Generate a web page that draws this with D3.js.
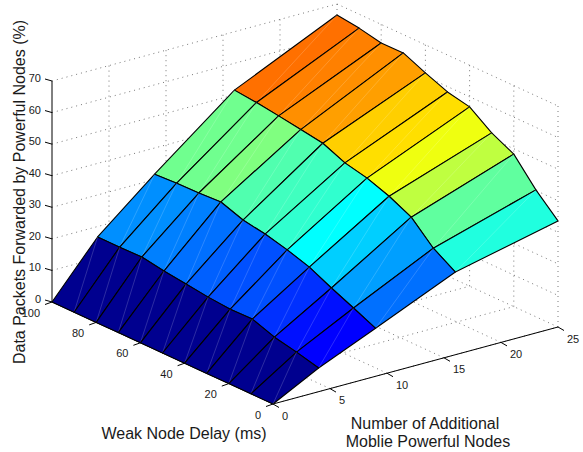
<!DOCTYPE html>
<html><head><meta charset="utf-8">
<script src="https://cdn.jsdelivr.net/npm/d3@7"></script>
<style>html,body{margin:0;background:#fff}svg{display:block}text{font-family:"Liberation Sans",Arial,sans-serif;fill:#1a1a1a}</style>
</head><body><svg id="c" width="583" height="452"></svg>
<script>
const nodeMesh=[0,4,9,16,25];
const delayMesh=[0,10,20,30,40,50,60,70,80,90,100];
const zAtNodes0=[0,0,0,0,0,0,0,0,0,0,0];
const zAtNodes4=[7.5,9.3,10.8,13.3,13.2,13.8,14.7,15.6,16.8,16.7,16.7];
const zAtNodes9=[15.2,18.4,21.5,24.9,27.1,28.9,30.1,32.6,32.2,32.1,31.7];
const zAtNodes16=[26.2,30.5,37.1,40.5,43.0,44.6,47.6,48.7,49.8,50.8,51.5];
const zAtNodes25=[33.6,40.2,48.3,51.8,56.8,58.3,61.1,64.2,64.1,65.6,66.5];
const nodeTicks=[0,5,10,15,20,25];
const delayTicks=[0,20,40,60,80,100];
const zTicks=[0,10,20,30,40,50,60,70];
const zTitle="Data Packets Forwarded by Powerful Nodes (%)";
const delayTitle="Weak Node Delay (ms)";
const nodeTitle=["Number of Additional","Moblie Powerful Nodes"];

const Z=[zAtNodes0,zAtNodes4,zAtNodes9,zAtNodes16,zAtNodes25];
const svg=d3.select("#c");

// Projection of the 3-D box, built from linear scales
const nX=d3.scaleLinear().domain([0,25]).range([0,285]);
const nY=d3.scaleLinear().domain([0,25]).range([0,-77]);
const dX=d3.scaleLinear().domain([0,100]).range([0,-221]);
const dY=d3.scaleLinear().domain([0,100]).range([0,-102]);
const zY=d3.scaleLinear().domain([0,70]).range([0,-221]);
const P=(n,d,z)=>[273+nX(n)+dX(d),404+nY(n)+dY(d)+zY(z)];
const line=d3.line();

// MATLAB jet(64) colormap
const zMax=d3.max(Z.flat());
const cScale=d3.scaleLinear().domain([0,zMax]).range([0,1]);
const clamp=v=>Math.max(0,Math.min(1,v));
function jet(z){
  const i=Math.min(63,Math.floor(cScale(z)*64));
  const x=(i+1)/64;
  return d3.rgb(255*clamp(1.5-Math.abs(4*x-3)),255*clamp(1.5-Math.abs(4*x-2)),255*clamp(1.5-Math.abs(4*x-1))).formatRgb();
}

// Dotted grid on the floor and the two back walls
const grid=svg.append("g").attr("fill","none").attr("stroke","#555").attr("stroke-width",0.8).attr("stroke-dasharray","1 4");
const seg=(g,a,b)=>g.append("path").attr("d",line([a,b]));
nodeTicks.slice(1).forEach(n=>{
  seg(grid,P(n,0,0),P(n,100,0));
  seg(grid,P(n,100,0),P(n,100,70));
});
delayTicks.slice(0,-1).forEach(d=>{
  seg(grid,P(0,d,0),P(25,d,0));
  seg(grid,P(25,d,0),P(25,d,70));
});
zTicks.slice(1).forEach(z=>{
  seg(grid,P(0,100,z),P(25,100,z));
  seg(grid,P(25,100,z),P(25,0,z));
});

// Axes and ticks
const ax=svg.append("g").attr("fill","none").attr("stroke","#000").attr("stroke-width",1);
seg(ax,P(0,100,0),P(0,100,70));
seg(ax,P(0,0,0),P(25,0,0));
seg(ax,P(0,0,0),P(0,100,0));
const off=(p,dx,dy)=>[p[0]+dx,p[1]+dy];
zTicks.forEach(z=>{const p=P(0,100,z);seg(ax,p,off(p,-7,-2));});
nodeTicks.forEach(n=>{const p=P(n,0,0);seg(ax,p,off(p,6,3.5));});
delayTicks.forEach(d=>{const p=P(0,d,0);seg(ax,p,off(p,-7,2.5));});

// Surface, painted back to front; each face takes its colour from its lower-index corner
const surf=svg.append("g");
for(let i=nodeMesh.length-2;i>=0;i--){
  for(let j=delayMesh.length-2;j>=0;j--){
    const a=P(nodeMesh[i],delayMesh[j],Z[i][j]),
          b=P(nodeMesh[i+1],delayMesh[j],Z[i+1][j]),
          c=P(nodeMesh[i+1],delayMesh[j+1],Z[i+1][j+1]),
          e=P(nodeMesh[i],delayMesh[j+1],Z[i][j+1]);
    surf.append("path").attr("d",line([a,b,c,e])+"Z")
      .attr("fill",jet(Z[i][j])).attr("stroke","#000").attr("stroke-width",1.1).attr("stroke-linejoin","round");
    surf.append("path").attr("d",line([a,c])).attr("fill","none")
      .attr("stroke","#fff").attr("stroke-opacity",0.25).attr("stroke-width",0.7);
  }
}

// Tick labels
const label=(x,y,t,size,anchor)=>svg.append("text").attr("x",x).attr("y",y).attr("font-size",size)
  .attr("text-anchor",anchor).attr("dominant-baseline","central").text(t);
zTicks.forEach(z=>{const p=P(0,100,z);label(p[0]-11,p[1]-3,z,11,"end");});
delayTicks.forEach(d=>{const p=P(0,d,0);label(p[0]-12,p[1]+10.5,d,11,"end");});
nodeTicks.forEach(n=>{const p=P(n,0,0);label(p[0]+9,p[1]+11.5,n,11,"start");});

// Axis titles
svg.append("text").attr("transform","translate(19,192) rotate(-90)").attr("text-anchor","middle")
  .attr("dominant-baseline","central").attr("font-size",16).text(zTitle);
label(184,433,delayTitle,16,"middle");
label(425,423,nodeTitle[0],16,"middle");
label(428,441,nodeTitle[1],16,"middle");
</script></body></html>
